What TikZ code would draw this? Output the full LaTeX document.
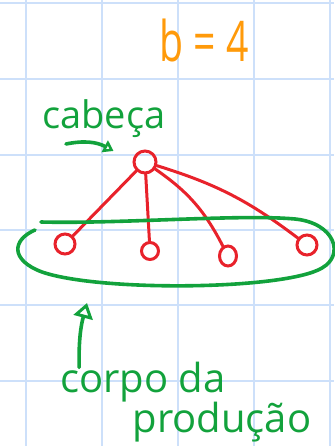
\documentclass[tikz,border=0pt]{standalone}
\usepackage{fontspec}
\setmainfont{Open Sans}
\usetikzlibrary{arrows.meta}
\usetikzlibrary{shapes.geometric}
\definecolor{gridblue}{HTML}{CDE0FA}
\definecolor{inkred}{HTML}{E8222B}
\definecolor{inkgreen}{HTML}{12A23C}
\definecolor{inkorange}{HTML}{FF9A0A}
\tikzset{
  gridline/.style={draw=gridblue,line width=2.2pt},
  vertex/.style={draw=inkred,line width=3pt,ellipse,inner sep=0pt,minimum width=#1,minimum height=#1},
  redline/.style={draw=inkred,line width=3pt,line cap=round},
  greenline/.style={draw=inkgreen,line width=3.6pt,line cap=round,line join=round},
  pointer/.style={greenline,-{Triangle[open,length=#1,width'=0pt 1.3,line width=3pt]}},
  handtext/.style={text=inkgreen,inner sep=0pt,anchor=base,font=\fontsize{#1}{#1}\selectfont}
}
\begin{document}
\begin{tikzpicture}[x=1pt,y=-1pt]
\useasboundingbox (0,0) rectangle (334,446);
\foreach \x in {26,102,178,254,330} \draw[gridline] (\x,0) -- (\x,446);
\foreach \y in {3,79,155,230,305,381} \draw[gridline] (0,\y) -- (334,\y);

\node[handtext=56,text=inkorange] (bvalue) at (204,62) {\scalebox{0.7}[1]{b = 4}};
\node[handtext=38] (cabeca) at (104,129) {cabeça};
\node[handtext=40] (corpo) at (143,392) {corpo da};
\node[handtext=40] (producao) at (222,432) {produção};

\node[vertex=22pt] (head) at (145,162) {};
\node[vertex=20pt] (leafA) at (65,244) {};
\node[vertex=17pt] (leafB) at (150,251) {};
\node[vertex=17pt,minimum height=20pt] (leafC) at (228,256) {};
\node[vertex=20pt] (leafD) at (307,245) {};

\draw[redline] (head) -- (leafA);
\draw[redline] (head) -- (leafB);
\draw[redline] (head) to[bend left=14] (leafC);
\draw[redline] (head) to[bend left=10] (leafD);

\draw[greenline] (41,222) .. controls (120,224) and (240,214) .. (295,219)
  .. controls (335,223) and (345,255) .. (322,268)
  .. controls (285,290) and (100,292) .. (42,272)
  .. controls (10,260) and (12,240) .. (35,230);

\coordinate (bodymark) at (87,303);
\draw[pointer=10pt] ([shift={(-38pt,-15pt)}]cabeca.base) to[bend left=20] ([shift={(-19pt,11pt)}]head.west);
\draw[pointer=15pt] ([shift={(19pt,-6pt)}]corpo.north west) to[bend left=8] (bodymark);
\end{tikzpicture}
\end{document}
